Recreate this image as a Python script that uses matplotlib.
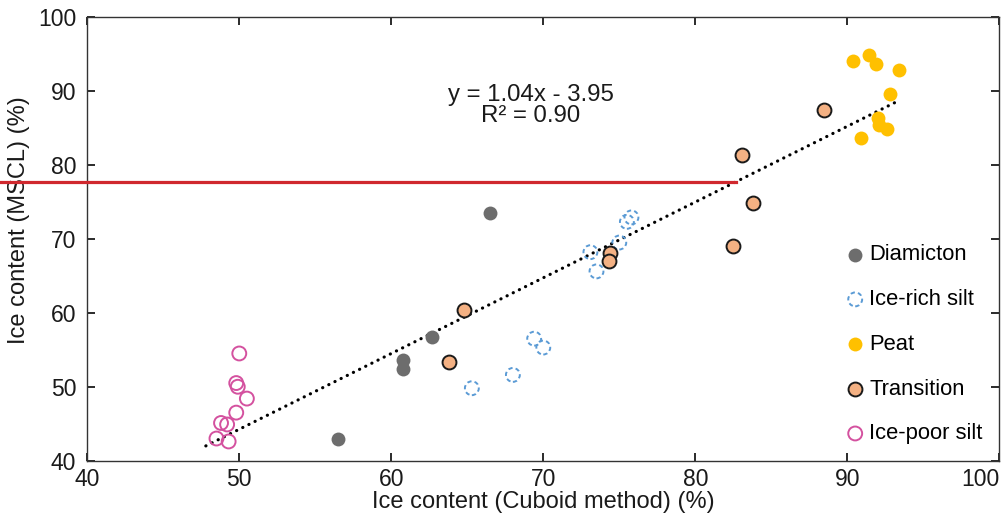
import matplotlib.pyplot as plt

plt.rcParams['font.family'] = ['Liberation Sans', 'DejaVu Sans']

# values
diamicton_x = [66.5, 60.8, 60.8, 62.7, 56.5]
diamicton_y = [73.5, 53.6, 52.4, 56.7, 43.0]

icerich_x = [75.5, 75.8, 75.0, 73.1, 73.5, 69.4, 70.0, 68.0, 65.3]
icerich_y = [72.3, 72.9, 69.5, 68.2, 65.6, 56.5, 55.3, 51.6, 49.8]

peat_x = [90.4, 91.4, 91.9, 93.4, 92.8, 92.0, 92.1, 92.6, 90.9]
peat_y = [94.0, 94.9, 93.6, 92.8, 89.6, 86.4, 85.4, 84.9, 83.6]

transition_x = [88.5, 83.1, 83.8, 82.5, 74.4, 74.3, 64.8, 63.8]
transition_y = [87.4, 81.4, 74.8, 69.1, 68.1, 67.0, 60.4, 53.3]

icepoor_x = [50.0, 49.8, 49.9, 50.5, 49.8, 48.8, 49.2, 48.5, 49.3]
icepoor_y = [54.5, 50.5, 50.0, 48.4, 46.5, 45.1, 44.9, 43.0, 42.6]

trend_x = [47.8, 93.3]
trend_y = [42.0, 88.6]

marker_y = 77.7
marker_x = [34.2, 82.7]

fig = plt.figure(figsize=(10.02, 5.17), dpi=100)
ax = fig.add_axes([0.0871, 0.1089, 0.9102, 0.8582])

s = 100
ax.plot(trend_x, trend_y, color='black', lw=2.3, linestyle=(0, (0.05, 2.1)),
        dash_capstyle='round', zorder=1)
ax.scatter(diamicton_x, diamicton_y, s=s, color='#6d6d6d', lw=0, label='Diamicton', zorder=3)
ax.scatter(icerich_x, icerich_y, s=s, facecolors='none', edgecolors='#5b9bd5',
           linewidths=1.4, linestyles=(0, (2.2, 1.6)), label='Ice-rich silt', zorder=3)
ax.scatter(peat_x, peat_y, s=s, color='#ffc000', lw=0, label='Peat', zorder=3)
ax.scatter(transition_x, transition_y, s=s, facecolors='#f4b183', edgecolors='#1a1a1a',
           linewidths=1.4, label='Transition', zorder=3)
ax.scatter(icepoor_x, icepoor_y, s=s, facecolors='none', edgecolors='#d4519f',
           linewidths=1.4, label='Ice-poor silt', zorder=3)

ax.plot(marker_x, [marker_y, marker_y], color='#d0282e', lw=2.3, clip_on=False, zorder=4)

ax.text(69.2, 88.0, 'y = 1.04x - 3.95\nR² = 0.90', ha='center', va='center',
        fontsize=17.3, color='#1a1a1a', linespacing=0.95)

ax.set_xlim(40, 100)
ax.set_ylim(40, 100)
ax.set_xticks(range(40, 101, 10))
ax.set_yticks(range(40, 101, 10))
ax.tick_params(direction='in', length=6, width=1.3, labelsize=16.5, colors='#1a1a1a',
               top=True, right=True)
ax.tick_params(axis='x', pad=5)
ax.tick_params(axis='y', pad=8)
ax.get_xticklabels()[-1].set_ha('right')
for sp in ax.spines.values():
    sp.set_linewidth(1.0)
    sp.set_color('#333333')

ax.set_xlabel('Ice content (Cuboid method) (%)', fontsize=17, color='#1a1a1a', labelpad=0)
ax.set_ylabel('Ice content (MSCL) (%)', fontsize=17, color='#1a1a1a')
ax.yaxis.set_label_coords(-0.063, 0.543)

ax.legend(loc='lower right', bbox_to_anchor=(1.0, 0.0), frameon=False, fontsize=15.8,
          labelspacing=1.08, handletextpad=0.15, handlelength=1.0, borderaxespad=0.35)

fig.savefig('out.png', dpi=100)
